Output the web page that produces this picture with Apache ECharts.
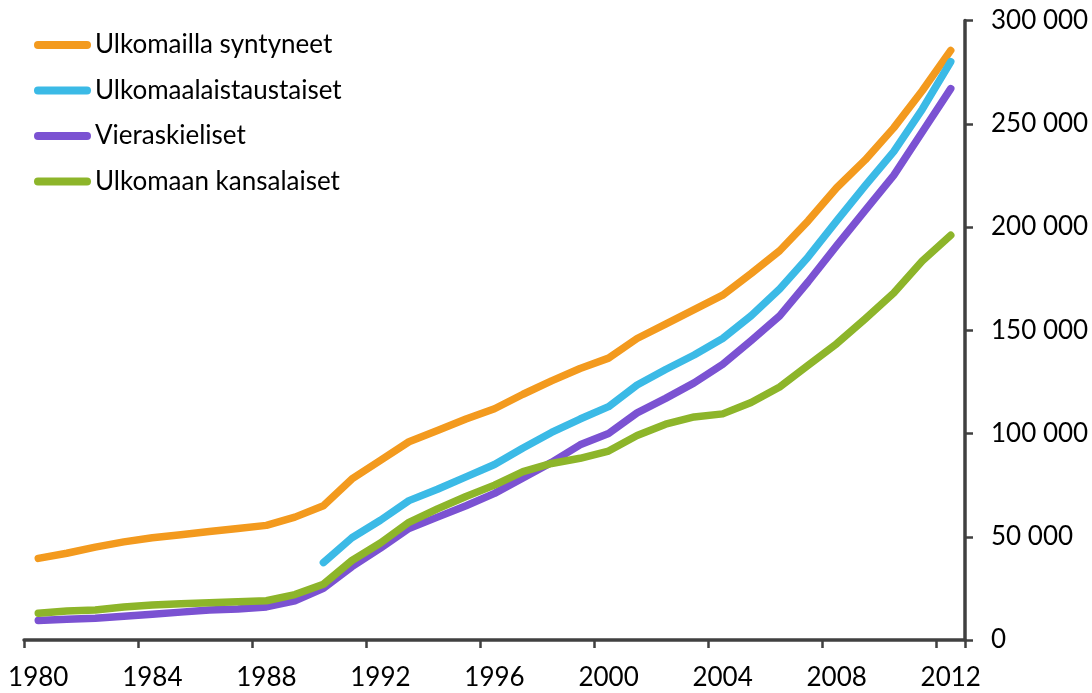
<!DOCTYPE html>
<html>
<head>
<meta charset="utf-8">
<script src="https://cdn.jsdelivr.net/npm/echarts@6/dist/echarts.min.js"></script>
<style>
html,body{margin:0;padding:0;background:#fff;}
#chart{width:1092px;height:693px;}
</style>
</head>
<body>
<div id="chart"></div>
<script>
const years = [];
for (let y = 1980; y <= 2012; y++) years.push(String(y));

const seriesNames = ['Ulkomailla syntyneet', 'Ulkomaalaistaustaiset', 'Vieraskieliset', 'Ulkomaan kansalaiset'];

// values in persons, 1980..2012
const ulkomaillaSyntyneet = [39500, 42000, 45000, 47500, 49500, 51000, 52500, 54000, 55500, 59500,
  65000, 78000, 87000, 96000, 101500, 107000, 112000, 119000, 125500, 131500,
  136500, 146000, 153000, 160000, 167000, 177500, 188500, 203000, 219000, 232500,
  248000, 266000, 285500];
const ulkomaalaistaustaiset = [null, null, null, null, null, null, null, null, null, null,
  37500, 49500, 58000, 67500, 73000, 79000, 85000, 93000, 100500, 107000,
  113000, 123500, 131000, 138000, 146000, 157000, 170000, 185500, 203000, 220000,
  236500, 257000, 280000];
const vieraskieliset = [9500, 10000, 10500, 11500, 12500, 13500, 14500, 15000, 16000, 19000,
  25000, 35500, 44500, 54000, 59500, 65000, 71000, 78500, 86000, 94500,
  100000, 110000, 117000, 124500, 133500, 145000, 157000, 173500, 191000, 208000,
  225000, 246000, 267000];
const ulkomaanKansalaiset = [13000, 14000, 14500, 16000, 17000, 17500, 18000, 18500, 19000, 22000,
  27000, 38500, 47000, 57000, 63500, 69500, 75000, 81500, 85500, 88000,
  91500, 99000, 104500, 108000, 109500, 115000, 122500, 133000, 143500, 155500,
  168000, 183500, 196000];

const colors = ['#F39A1E', '#3BBAE6', '#7B52D2', '#8DB52A'];
const dataSets = [ulkomaillaSyntyneet, ulkomaalaistaustaiset, vieraskieliset, ulkomaanKansalaiset];

const FONT = 'Lato';
const axisColor = '#404040';

const chart = echarts.init(document.getElementById('chart'), null, {renderer: 'canvas'});
chart.setOption({
  animation: false,
  backgroundColor: '#ffffff',
  color: colors,
  grid: {left: 24, right: 127, top: 20.5, bottom: 53, containLabel: false, outerBoundsMode: 'none'},
  legend: {
    orient: 'vertical',
    left: 29,
    top: 25,
    itemWidth: 57,
    itemHeight: 8,
    itemGap: 15.5,
    icon: 'path://M4,0 L53,0 A4,4 0 0 1 53,8 L4,8 A4,4 0 0 1 4,0 Z',
    textStyle: {fontFamily: FONT, fontSize: 26, color: '#000', lineHeight: 30, padding: [0, 0, 0, -1]},
    data: seriesNames
  },
  xAxis: {
    type: 'category',
    data: years,
    boundaryGap: true,
    axisLine: {show: true, onZero: false, lineStyle: {color: axisColor, width: 3.5}},
    axisTick: {show: true, interval: 3, length: 8, lineStyle: {color: axisColor, width: 2.5}},
    axisLabel: {interval: 3, fontFamily: FONT, fontSize: 26, color: '#000', margin: 25},
    splitLine: {show: false}
  },
  yAxis: {
    type: 'value',
    position: 'right',
    min: 0,
    max: 300000,
    interval: 50000,
    axisLine: {show: true, lineStyle: {color: axisColor, width: 3.5}},
    axisTick: {show: true, length: 8, lineStyle: {color: axisColor, width: 2.5}},
    axisLabel: {
      fontFamily: FONT, fontSize: 26, color: '#000', margin: 26,
      formatter: function (v) { return String(v).replace(/\B(?=(\d{3})+(?!\d))/g, ' '); }
    },
    splitLine: {show: false}
  },
  series: seriesNames.map((name, i) => ({
    name: name,
    type: 'line',
    data: dataSets[i],
    symbol: 'none',
    showSymbol: false,
    connectNulls: false,
    lineStyle: {width: 7.5, color: colors[i], cap: 'round', join: 'round'},
    itemStyle: {color: colors[i]}
  }))
});
</script>
</body>
</html>
